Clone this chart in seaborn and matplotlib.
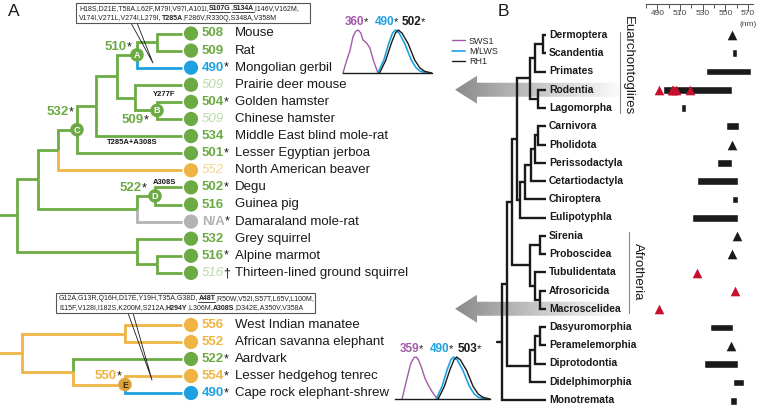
import numpy as np
import pandas as pd
import matplotlib
matplotlib.use("Agg")
import matplotlib.pyplot as plt
import seaborn as sns
from matplotlib.colors import LinearSegmentedColormap
from matplotlib.patches import Polygon, Rectangle

sns.set_theme(style="white")
plt.rcParams["font.family"] = ["Liberation Sans", "DejaVu Sans"]

GREEN = "#6cab44"
ORANGE = "#efb443"
BLUE = "#1ea1e0"
GRAY = "#b3b3b3"
PURPLE = "#a35aa8"
INK = "#1a1a1a"
PALE = {GREEN: "#bcd8a6", ORANGE: "#f4d594"}

# ---------------- panel A data ----------------
rodent_species = ["Mouse", "Rat", "Mongolian gerbil", "Prairie deer mouse", "Golden hamster",
                  "Chinese hamster", "Middle East blind mole-rat", "Lesser Egyptian jerboa",
                  "North American beaver", "Degu", "Guinea pig", "Damaraland mole-rat",
                  "Grey squirrel", "Alpine marmot", "Thirteen-lined ground squirrel"]
rodent_lmax = ["508", "509", "490", "509", "504", "509", "534", "501", "552", "502",
               "516", "N/A", "532", "516", "516"]
rodent_mark = ["", "", "*", "", "*", "", "", "*", "", "*", "", "*", "", "*", "\u2020"]
rodent_color = [GREEN, GREEN, BLUE, GREEN, GREEN, GREEN, GREEN, GREEN, ORANGE, GREEN,
                GREEN, GRAY, GREEN, GREEN, GREEN]
rodent_measured = [True, True, True, False, True, False, True, True, False, True,
                   True, True, True, True, False]

afro_species = ["West Indian manatee", "African savanna elephant", "Aardvark",
                "Lesser hedgehog tenrec", "Cape rock elephant-shrew"]
afro_lmax = ["556", "552", "522", "554", "490"]
afro_mark = ["", "", "*", "*", "*"]
afro_color = [ORANGE, ORANGE, GREEN, ORANGE, BLUE]
afro_measured = [True, True, True, True, True]

# trees: (node depth, colour, children, optional tag); ints are tips
rodent_tree = (17, GREEN, [
    (38, GREEN, [
        (58, GREEN, [
            (77, GREEN, [
                (96, GREEN, [
                    (117, GREEN, [
                        (137, GREEN, [(157, GREEN, [0, 1]), 2], "A"),
                        (135, GREEN, [3, (157, GREEN, [4, 5], "B")]),
                    ]),
                    6]),
                7], "C"),
            8]),
        (137, GREEN, [(155, GREEN, [9, 10], "D"), 11])]),
    (137, GREEN, [12, (157, GREEN, [13, 14])])])

afro_tree = (22, ORANGE, [(125, ORANGE, [0, 1]),
                          (73, ORANGE, [2, (125, ORANGE, [3, 4], "E")])])

ancestral = [("510", GREEN, 105, 47), ("509", GREEN, 122, 120), ("532", GREEN, 47, 112),
             ("522", GREEN, 120, 188), ("550", ORANGE, 95, 376)]
substitutions = [("Y277F", 153, 95), ("T285A+A308S", 107, 143), ("A308S", 153, 182)]

# replacement lists: "" plain, "b" bold, "u" bold underlined
box1_lines = [[("H18S,D21E,T58A,L62F,M79I,V97I,A101I,", ""), ("S107G", "u"), (",", ""),
               ("S134A", "u"), (",I146V,V162M,", "")],
              [("V174I,V271L,V274I,L279I,", ""), ("T285A", "b"), (",F286V,R330Q,S348A,V358M", "")]]
box2_lines = [[("G12A,G13R,Q16H,D17E,Y19H,T35A,G38D,", ""), ("A48T", "u"),
               (",R50W,V52I,S57T,L65V,L100M,", "")],
              [("I115F,V128I,I182S,K200M,S212A,", ""), ("H294Y", "b"), (",L306M,", ""),
               ("A308S", "b"), (",D342E,A350V,V358A", "")]]

# absorbance spectra (nm, normalised absorbance)
sws1_nm = [307, 318, 332, 342, 352, 360, 370, 377, 390, 402, 414, 430]
sws1_abs = [0.0, 0.25, 0.53, 0.84, 0.97, 1.0, 0.93, 0.77, 0.70, 0.58, 0.30, 0.0]
mlws_nm = [430, 451, 469, 482, 492, 505, 525, 548, 565, 580, 605]
mlws_abs = [0.0, 0.30, 0.70, 0.93, 1.0, 0.93, 0.68, 0.30, 0.12, 0.04, 0.0]
rh1_nm = [436, 458, 478, 492, 502, 515, 537, 560, 578, 595, 620]
rh1_abs = [0.0, 0.30, 0.70, 0.93, 1.0, 0.93, 0.68, 0.30, 0.12, 0.04, 0.0]
sws1b_nm = [309, 325, 340, 352, 359, 366, 378, 390, 402, 415, 425, 437]
sws1b_abs = [0.0, 0.45, 0.85, 0.99, 1.0, 0.95, 0.75, 0.50, 0.33, 0.18, 0.08, 0.0]
peaks_top = [("360", PURPLE, 345), ("490", BLUE, 375), ("502", INK, 402)]
peaks_bottom = [("359", PURPLE, 400), ("490", BLUE, 430), ("503", INK, 458)]

# ---------------- panel B data ----------------
orders = ["Dermoptera", "Scandentia", "Primates", "Rodentia", "Lagomorpha", "Carnivora",
          "Pholidota", "Perissodactyla", "Cetartiodactyla", "Chiroptera", "Eulipotyphla",
          "Sirenia", "Proboscidea", "Tubulidentata", "Afrosoricida", "Macroscelidea",
          "Dasyuromorphia", "Peramelemorphia", "Diprotodontia", "Didelphimorphia", "Monotremata"]
range_lo = [np.nan, 552, 530, 493, 509, 547, np.nan, 539, 522, 552, 518,
            np.nan, np.nan, np.nan, np.nan, np.nan, 533, np.nan, 528, 553, 550]
range_hi = [np.nan, 556, 568, 552, 513, 558, np.nan, 552, 557, 557, 557,
            np.nan, np.nan, np.nan, np.nan, np.nan, 553, np.nan, 557, 562, 556]
single_orders = ["Dermoptera", "Pholidota", "Sirenia", "Proboscidea", "Peramelemorphia"]
single_nm = [552, 552, 556, 552, 551]
new_orders = ["Rodentia", "Rodentia", "Rodentia", "Rodentia", "Rodentia",
              "Tubulidentata", "Afrosoricida", "Macroscelidea"]
new_nm = [490, 501, 502, 504, 516, 522, 554, 490]

order_tree = (501.7, INK, [
    (507, INK, [
        (511.7, INK, [
            (516.7, INK, [
                (530, INK, [(535, INK, [(542.7, INK, [0, 1]), 2]), (538, INK, [3, 4])]),
                (520, INK, [(525, INK, [(531, INK, [(535, INK, [(538, INK, [5, 6]), 7]), 8]), 9]), 10]),
            ]),
            (530, INK, [(540, INK, [11, 12]), (535, INK, [13, (540, INK, [14, 15])])]),
        ]),
        (530, INK, [(535, INK, [(540, INK, [16, 17]), 18]), 19]),
    ]),
    20])

# ---------------- figure ----------------
W, H = 757, 408
fig = plt.figure(figsize=(W / 100, H / 100), dpi=100)
ax = fig.add_axes([0, 0, 1, 1])
ax.axis("off")
ax.set_xlim(0, W)
ax.set_ylim(H, 0)
renderer = fig.canvas.get_renderer()


def px_axes(x0, y0, x1, y1):
    return fig.add_axes([x0 / W, 1 - y1 / H, (x1 - x0) / W, (y1 - y0) / H])


def draw_clade(node, rows, tip_x, leaf_cols, lw, tags):
    if isinstance(node, int):
        return rows[node], leaf_cols[node], tip_x
    x, col, kids = node[0], node[1], node[2]
    placed = [draw_clade(k, rows, tip_x, leaf_cols, lw, tags) for k in kids]
    ymid = (placed[0][0] + placed[-1][0]) / 2
    for ky, kcol, kx in placed:
        ax.plot([x, x, kx], [ymid, ky, ky], color=kcol, lw=lw,
                solid_joinstyle="miter", solid_capstyle="butt", zorder=2)
    if len(node) > 3:
        tags.append((x, ymid, node[3], col))
    return ymid, col, x


def starred(x, y, label, color, mark, size=9.5, italic=False):
    t = ax.text(x, y, label, color=color, fontsize=size, ha="left", va="center",
                fontweight="normal" if italic else "bold",
                fontstyle="italic" if italic else "normal", zorder=5)
    if mark:
        w = t.get_window_extent(renderer=renderer).width
        ax.text(x + w - 0.5, y - size * 0.62, mark, fontsize=size * 0.95, color=INK,
                ha="left", va="top", zorder=5)
    return t


def rich_line(x, y, segments, size):
    for seg, style in segments:
        t = ax.text(x, y, seg, fontsize=size, color="#222222", ha="left", va="center",
                    fontweight="bold" if style else "normal", zorder=9)
        w = t.get_window_extent(renderer=renderer).width
        if style == "u":
            ax.plot([x, x + w], [y + 3.4, y + 3.4], color="#222222", lw=0.6, zorder=9)
        x += w


def tips(species, lmax, marks, colors, measured, rows):
    for i, name in enumerate(species):
        y = rows[i]
        col = colors[i]
        txt_col = col if measured[i] else PALE.get(col, col)
        starred(202, y, lmax[i], txt_col, marks[i], italic=not measured[i])
        ax.text(235, y, name, fontsize=9.5, color=INK, va="center", ha="left")
    sns.scatterplot(x=[191] * len(species), y=rows, hue=list(range(len(species))),
                    palette=colors, s=105, linewidth=0, legend=False, ax=ax, zorder=4)


rows_rod = [33.5 + 17.1 * i for i in range(len(rodent_species))]
rows_afro = [325 + 17 * i for i in range(len(afro_species))]
rows_ord = [35 + 18.25 * i for i in range(len(orders))]

tags = []
ymid, _, _ = draw_clade(rodent_tree, rows_rod, 182, rodent_color, 2.0, tags)
ax.plot([0, 17], [ymid, ymid], color=GREEN, lw=2.0, zorder=2)
ymid, _, _ = draw_clade(afro_tree, rows_afro, 182, afro_color, 2.0, tags)
ax.plot([0, 22], [ymid, ymid], color=ORANGE, lw=2.0, zorder=2)

tips(rodent_species, rodent_lmax, rodent_mark, rodent_color, rodent_measured, rows_rod)
tips(afro_species, afro_lmax, afro_mark, afro_color, afro_measured, rows_afro)

for x, y, tag, col in tags:
    face = GREEN if col == GREEN else "#dca33a"
    ax.scatter([x], [y], s=95, color=face, edgecolor="none", zorder=6)
    ax.text(x, y + 0.5, tag, fontsize=6.5, fontweight="bold", ha="center", va="center",
            color="white" if col == GREEN else "#3a2a10", zorder=7)

for val, col, x, y in ancestral:
    starred(x, y, val, col, "*")

for s, x, y in substitutions:
    ax.text(x, y, s, fontsize=5.5, fontweight="bold", color=INK, ha="left", va="center")

# mutation boxes with callouts
for (x0, y0, x1, y1), lines, (cx0, cx1, tipx, tipy) in [
        ((76, 3, 310, 23), box1_lines, (131, 137, 153, 63)),
        ((56, 293, 315, 313), box2_lines, (128, 133, 152, 380))]:
    ax.add_patch(Rectangle((x0, y0), x1 - x0, y1 - y0, facecolor="white",
                           edgecolor="#555555", lw=0.8, zorder=8))
    for k, line in enumerate(lines):
        rich_line(x0 + 3, y0 + 5.5 + 9.5 * k, line, 5.0)
    ax.plot([cx0, tipx, cx1], [y1, tipy, y1], color=INK, lw=0.6, zorder=3)

ax.text(8, 12, "A", fontsize=12.5, color=INK, ha="left", va="center")
ax.text(498, 12, "B", fontsize=12.5, color=INK, ha="left", va="center")

# spectra insets
for box, purple, peaks in [((343, 30, 432, 73), (sws1_nm, sws1_abs), peaks_top),
                           ((395, 357, 490, 399), (sws1b_nm, sws1b_abs), peaks_bottom)]:
    ai = px_axes(*box)
    shift = 1 if peaks is peaks_bottom else 0
    l1, = ai.plot(purple[0], purple[1], color=PURPLE, lw=1.0, clip_on=False)
    l2, = ai.plot(mlws_nm, mlws_abs, color=BLUE, lw=1.2, clip_on=False)
    l3, = ai.plot(np.array(rh1_nm) + shift, rh1_abs, color=INK, lw=1.0, clip_on=False)
    ai.set_xlim(307 if peaks is peaks_top else 284, 621)
    ai.set_ylim(0, 1)
    ai.set_facecolor("none")
    for s in ["left", "right", "top"]:
        ai.spines[s].set_visible(False)
    ai.spines["bottom"].set_color(INK)
    ai.spines["bottom"].set_linewidth(1.0)
    ai.set_xticks([])
    ai.set_yticks([])
    for val, col, x in peaks:
        starred(x, box[1] - 8, val, col, "*", size=8.5)
    if peaks is peaks_top:
        ai.legend([l1, l2, l3], ["SWS1", "M/LWS", "RH1"], loc="center left",
                  bbox_to_anchor=(1.17, 0.5), frameon=False, fontsize=6.5,
                  handlelength=1.5, handletextpad=0.4, labelspacing=0.15, borderpad=0)

# panel B tree
tags_b = []
ymid, _, _ = draw_clade(order_tree, rows_ord, 546, [INK] * len(orders), 1.7, tags_b)
ax.plot([496.7, 501.7], [ymid, ymid], color=INK, lw=1.7, zorder=2)
for i, name in enumerate(orders):
    ax.text(549, rows_ord[i], name, fontsize=7.5, fontweight="bold", color=INK, va="center", ha="left")

# gradient arrows behind Rodentia and Macroscelidea
fade = LinearSegmentedColormap.from_list("fade", ["#8a8a8a", "#c8c8c8", "#ffffff"])
for y in [rows_ord[3], rows_ord[15]]:
    verts = [(455, y), (477, y - 14), (477, y - 7), (625, y - 7), (625, y + 7), (477, y + 7), (477, y + 14)]
    poly = Polygon(verts, closed=True, facecolor="none", edgecolor="none")
    ax.add_patch(poly)
    im = ax.imshow(np.linspace(0, 1, 256)[None, :], cmap=fade, extent=(455, 625, y + 15, y - 15),
                   aspect="auto", zorder=0.5)
    im.set_clip_path(poly)

# clade brackets
ax.plot([620, 620], [32, 113], color="#888888", lw=0.8)
ax.text(628, 66, "Euarchontoglires", rotation=-90, fontsize=9.5, color=INK, ha="center", va="center")
ax.plot([629, 629], [232, 313], color="#888888", lw=0.8)
ax.text(638, 272, "Afrotheria", rotation=-90, fontsize=9.5, color=INK, ha="center", va="center")

# lambda-max ranges
ab = px_axes(645, 25.9, 757, 408)
rng = pd.DataFrame({"order": orders, "row": range(len(orders)), "lo": range_lo, "hi": range_hi}).dropna()
ab.barh(rng["row"], rng["hi"] - rng["lo"], left=rng["lo"], height=0.42, color=INK)
single = pd.DataFrame({"row": [orders.index(o) for o in single_orders], "nm": single_nm})
new = pd.DataFrame({"row": [orders.index(o) for o in new_orders], "nm": new_nm})
sns.scatterplot(data=single, x="nm", y="row", marker="^", s=48, color=INK, linewidth=0, ax=ab, zorder=3)
sns.scatterplot(data=new, x="nm", y="row", marker="^", s=48, color="#c8102e", linewidth=0, ax=ab, zorder=3)
ab.set_xlim(478.1, 573)
ab.set_ylim(20.4, -0.49)
ab.set_facecolor("none")
ab.axis("off")

# wavelength ruler
ar = px_axes(646, 4, 753, 9)
ar.set_xlim(480.3, 574.4)
ar.set_ylim(0, 1)
ar.set_facecolor("none")
for s in ["left", "right", "bottom"]:
    ar.spines[s].set_visible(False)
ar.spines["top"].set_color("#555555")
ar.spines["top"].set_linewidth(0.8)
ar.set_yticks([])
ar.set_xticks([490, 510, 530, 550, 570])
ar.set_xticks([480, 500, 520, 540, 560], minor=True)
ar.tick_params(axis="x", which="both", direction="in", top=True, bottom=False,
               labeltop=False, labelbottom=True, color="#555555", width=0.7,
               labelsize=6, labelcolor="#444444", pad=1)
ar.tick_params(axis="x", which="major", length=5)
ar.tick_params(axis="x", which="minor", length=3)
ax.text(748, 24, "(nm)", fontsize=6, color="#444444", ha="center", va="center")

ax.set_xlim(0, W)
ax.set_ylim(H, 0)
fig.savefig("out.png", dpi=100)
